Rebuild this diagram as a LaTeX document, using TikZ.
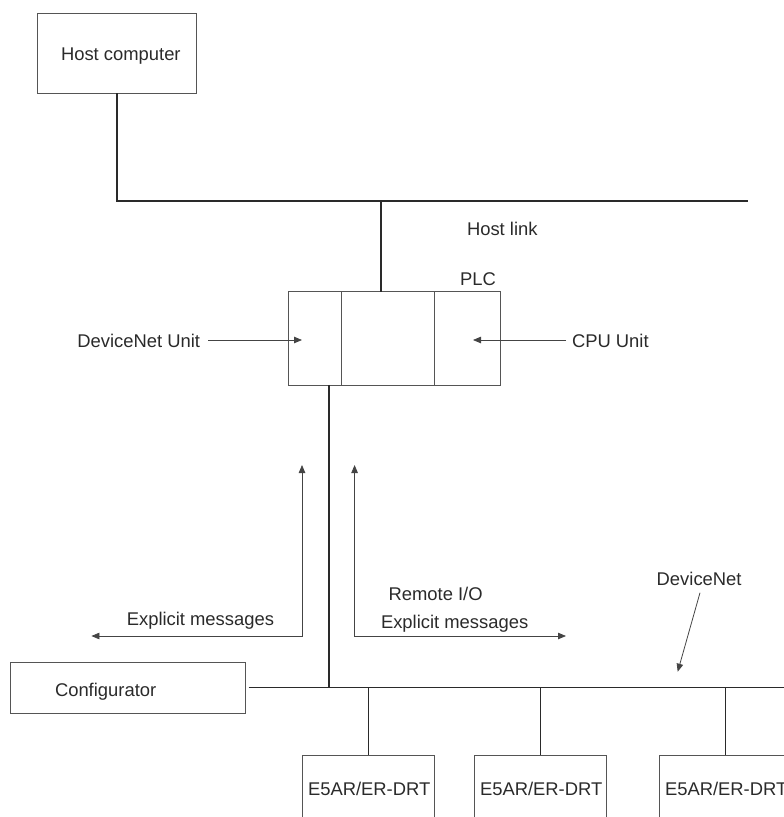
\documentclass[tikz,border=0pt]{standalone}
\usepackage{fontspec}
\setmainfont{Liberation Sans}
\usetikzlibrary{arrows.meta}
\definecolor{ink}{HTML}{2A2A2A}
\definecolor{boxc}{HTML}{555555}
\definecolor{arrc}{HTML}{444444}
\tikzset{
  txt/.style={inner sep=0pt, outer sep=0pt, text=ink, font=\fontsize{18.4}{22}\selectfont},
  boxn/.style={draw=boxc, line width=0.9pt, inner sep=0pt, outer sep=0pt, rectangle},
  busline/.style={draw=ink, line width=1.6pt},
  dropline/.style={draw=ink, line width=1.1pt},
  ptr/.style={draw=arrc, line width=0.8pt, -{Triangle[length=8pt,width=6.5pt]}},
  ptrtwo/.style={draw=arrc, line width=0.8pt, {Triangle[length=8pt,width=6.5pt]}-{Triangle[length=8pt,width=6.5pt]}}
}
\begin{document}
\begin{tikzpicture}[x=1pt,y=-1pt]
\useasboundingbox (0,0) rectangle (784,817);
\clip (0,0) rectangle (784,817);
% boxes
\node[boxn, minimum width=159pt, minimum height=80pt] (host) at (116.5,53.4) {};
\node[txt, anchor=base west] (hostt) at (61,60) {Host computer};
\node[boxn, minimum width=53.4pt, minimum height=93.3pt] (dnu) at (315.2,338.3) {};
\node[boxn, minimum width=92.6pt, minimum height=93.3pt] (mid) at (388.2,338.3) {};
\node[boxn, minimum width=66.4pt, minimum height=93.3pt] (cpu) at (467.7,338.3) {};
\node[boxn, minimum width=235pt, minimum height=51pt] (conf) at (128.2,687.8) {};
\node[txt, anchor=base west] (conft) at (55,696) {Configurator};
\node[boxn, minimum width=132.7pt, minimum height=90pt] (e1) at (368.3,800.3) {};
\node[boxn, minimum width=132.7pt, minimum height=90pt] (e2) at (540.3,800.3) {};
\node[boxn, minimum width=132.7pt, minimum height=90pt] (e3) at (725.7,800.3) {};
\node[txt, anchor=base west] (e1t) at (308,795.5) {E5AR/ER-DRT};
\node[txt, anchor=base west] (e2t) at (480,795.5) {E5AR/ER-DRT};
\node[txt, anchor=base west] (e3t) at (665,795.5) {E5AR/ER-DRT};
% labels
\node[txt, anchor=base west] (hl) at (467,235) {Host link};
\node[txt, anchor=base west] (plc) at (460,285) {PLC};
\node[txt, anchor=base east] (dnul) at (200,347) {DeviceNet Unit};
\node[txt, anchor=base west] (cpul) at (572,347) {CPU Unit};
\node[txt, anchor=base west] (dnet) at (656.7,585) {DeviceNet};
\node[txt, anchor=base west] (rio) at (388.6,600) {Remote I/O};
\node[txt, anchor=base west] (exl) at (126.8,625) {Explicit messages};
\node[txt, anchor=base west] (exr) at (381,628) {Explicit messages};
% host link network
\coordinate (hk) at (117,201);
\coordinate (hend) at (748,201);
\coordinate (pj) at (381,201);
\draw[busline] (host.south -| hk) -- (hk) -- (hend);
\draw[dropline] (pj) -- (pj |- mid.north);
% DeviceNet
\coordinate (bl) at (248.7,687.5);
\coordinate (br) at (790,687.5);
\coordinate (dj) at (329,687.5);
\draw[busline] (bl) -- (br);
\draw[dropline] (dnu.south -| dj) -- (dj);
\draw[dropline] (e1.north |- bl) -- (e1.north);
\draw[dropline] (e2.north |- bl) -- (e2.north);
\draw[dropline] (e3.north |- bl) -- (e3.north);
% pointer arrows
\coordinate (a1s) at (208,340);
\coordinate (a1e) at (302,340);
\draw[ptr] (a1s) -- (a1e);
\coordinate (a2s) at (566,340);
\coordinate (a2e) at (473,340);
\draw[ptr] (a2s) -- (a2e);
\coordinate (a3s) at (700,592.7);
\coordinate (a3e) at (677.7,671.7);
\draw[ptr] (a3s) -- (a3e);
% message arrows
\coordinate (l1) at (91.4,636);
\coordinate (l2) at (302,636);
\coordinate (l3) at (302,465);
\draw[ptrtwo] (l1) -- (l2) -- (l3);
\coordinate (r1) at (354.6,465);
\coordinate (r2) at (354.6,636);
\coordinate (r3) at (566,636);
\draw[ptrtwo] (r1) -- (r2) -- (r3);
\end{tikzpicture}
\end{document}
